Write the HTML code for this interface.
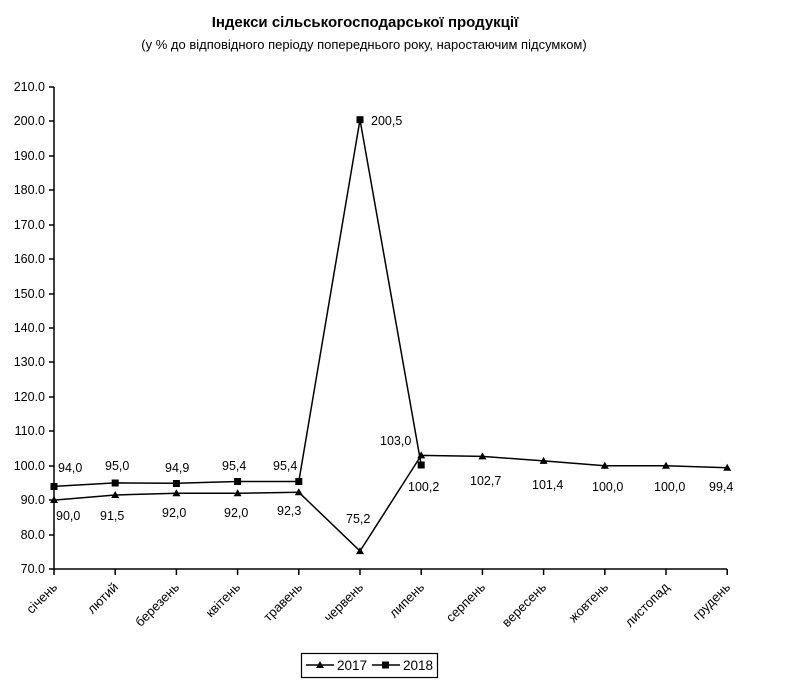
<!DOCTYPE html>
<html><head><meta charset="utf-8"><style>body{margin:0;background:#fff}svg{display:block}text{font-family:"Liberation Sans",sans-serif;fill:#000}</style></head><body>
<svg width="786" height="686" viewBox="0 0 786 686" xmlns="http://www.w3.org/2000/svg">
<text x="365" y="27" font-size="15" font-weight="bold" text-anchor="middle">Індекси сільськогосподарської продукції</text>
<text x="364" y="49" font-size="13" text-anchor="middle">(у % до відповідного періоду попереднього року, наростаючим підсумком)</text>
<g font-size="12.5" text-anchor="end">
<text x="45" y="573">70.0</text><text x="45" y="539">80.0</text><text x="45" y="504">90.0</text><text x="45" y="470">100.0</text><text x="45" y="435">110.0</text><text x="45" y="401">120.0</text><text x="45" y="366">130.0</text><text x="45" y="332">140.0</text><text x="45" y="298">150.0</text><text x="45" y="263">160.0</text><text x="45" y="229">170.0</text><text x="45" y="194">180.0</text><text x="45" y="160">190.0</text><text x="45" y="125">200.0</text><text x="45" y="91">210.0</text>
</g>
<g stroke="#000" stroke-width="1.5" fill="none">
<path d="M54 87V569H727M49 569H54M49 535H54M49 500H54M49 466H54M49 431H54M49 397H54M49 362H54M49 328H54M49 294H54M49 259H54M49 225H54M49 190H54M49 156H54M49 121H54M49 87H54"/>
<path d="M54 569v6M115.2 569v6M176.4 569v6M237.6 569v6M298.8 569v6M360 569v6M421.2 569v6M482.4 569v6M543.6 569v6M604.8 569v6M666 569v6M727.2 569v6"/>
<polyline points="54,500.1 115.2,495 176.4,493.3 237.6,493.3 298.8,492.2 360,551.1 421.2,455.4 482.4,456.4 543.6,460.9 604.8,465.7 666,465.7 727.2,467.8"/>
<polyline points="54,486.4 115.2,482.9 176.4,483.3 237.6,481.5 298.8,481.5 360,119.7 421.2,465"/>
</g>
<g fill="#000">
<path d="M54 496l4 7h-8zM115.2 491l4 7h-8zM176.4 489.3l4 7h-8zM237.6 489.3l4 7h-8zM298.8 488.2l4 7h-8zM360 547.1l4 7h-8zM421.2 451.4l4 7h-8zM482.4 452.4l4 7h-8zM543.6 456.9l4 7h-8zM604.8 461.7l4 7h-8zM666 461.7l4 7h-8zM727.2 463.8l4 7h-8z"/>
<rect x="50.5" y="483" width="7" height="7"/><rect x="111.7" y="479.5" width="7" height="7"/><rect x="172.9" y="480" width="7" height="7"/><rect x="234.1" y="478" width="7" height="7"/><rect x="295.3" y="478" width="7" height="7"/><rect x="356.5" y="116.2" width="7" height="7"/><rect x="417.7" y="461.5" width="7" height="7"/>
</g>
<g font-size="12.5">
<text x="58" y="472">94,0</text><text x="105" y="470">95,0</text><text x="165" y="472">94,9</text><text x="222" y="470">95,4</text><text x="273" y="470">95,4</text><text x="371" y="125">200,5</text><text x="408" y="491">100,2</text><text x="380" y="445">103,0</text>
<text x="56" y="520">90,0</text><text x="100" y="520">91,5</text><text x="162" y="517">92,0</text><text x="224" y="517">92,0</text><text x="277" y="515">92,3</text><text x="346" y="523">75,2</text><text x="470" y="485">102,7</text><text x="532" y="489">101,4</text><text x="592" y="491">100,0</text><text x="654" y="491">100,0</text><text x="709" y="491">99,4</text>
</g>
<g font-size="13" text-anchor="end">
<text transform="translate(58,588) rotate(-45)">січень</text>
<text transform="translate(119,588) rotate(-45)">лютий</text>
<text transform="translate(180,588) rotate(-45)">березень</text>
<text transform="translate(241,588) rotate(-45)">квітень</text>
<text transform="translate(303,588) rotate(-45)">травень</text>
<text transform="translate(364,588) rotate(-45)">червень</text>
<text transform="translate(425,588) rotate(-45)">липень</text>
<text transform="translate(486,588) rotate(-45)">серпень</text>
<text transform="translate(547,588) rotate(-45)">вересень</text>
<text transform="translate(609,588) rotate(-45)">жовтень</text>
<text transform="translate(670,588) rotate(-45)">листопад</text>
<text transform="translate(731,588) rotate(-45)">грудень</text>
</g>
<rect x="301.5" y="653.5" width="136" height="24" fill="none" stroke="#000" stroke-width="1.2"/>
<path d="M306 665h28M372 665h28" stroke="#000" stroke-width="1.5"/>
<path d="M320 661l4 7h-8z"/><rect x="382" y="661.5" width="7" height="7"/>
<text x="337" y="670" font-size="13.5">2017</text><text x="403" y="670" font-size="13.5">2018</text>
</svg>
</body></html>
